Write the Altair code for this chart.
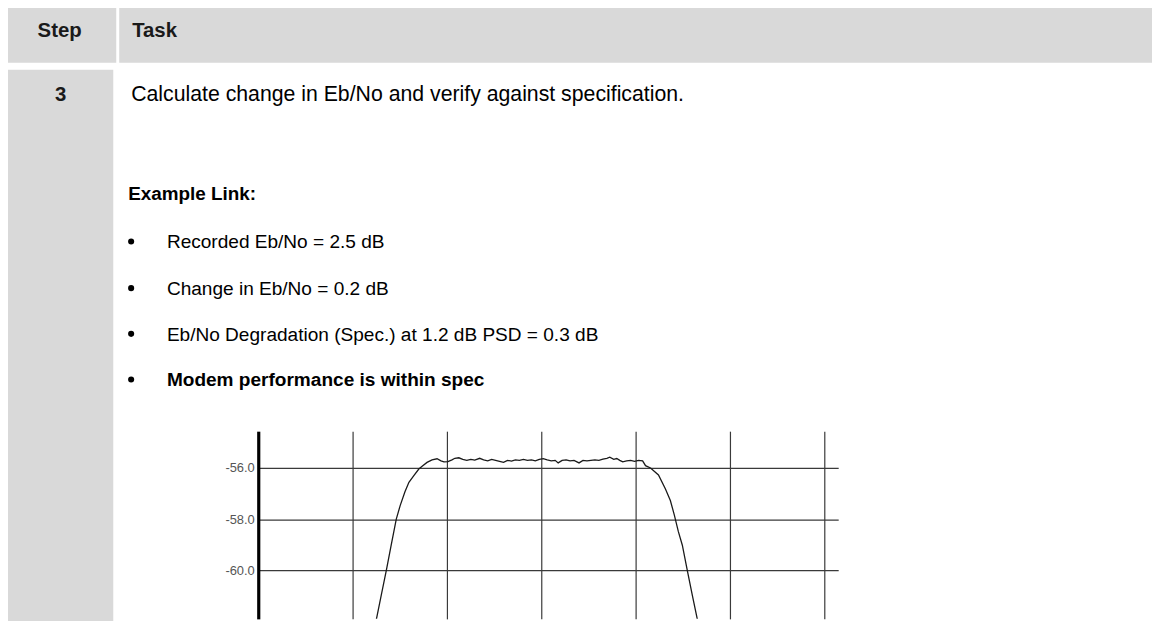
import altair as alt
import pandas as pd

# ---- chart data (frequency in graticule divisions, level in dB) ----
freq = [1.22, 1.253, 1.305, 1.358, 1.41, 1.463, 1.505, 1.555, 1.597, 1.649, 1.702, 1.737, 1.789, 1.842,
        1.895, 1.937, 1.968, 2.011, 2.053, 2.084, 2.126, 2.168, 2.211, 2.253, 2.295, 2.347, 2.389, 2.432,
        2.474, 2.516, 2.558, 2.6, 2.642, 2.684, 2.726, 2.768, 2.811, 2.853, 2.895, 2.937, 2.979, 3.021,
        3.063, 3.105, 3.147, 3.179, 3.221, 3.263, 3.305, 3.347, 3.4, 3.442, 3.484, 3.526, 3.568, 3.611,
        3.653, 3.695, 3.726, 3.768, 3.8, 3.832, 3.863, 3.905, 3.947, 3.989, 4.032,
        4.074, 4.105, 4.158, 4.242, 4.316, 4.368, 4.411, 4.453, 4.495, 4.547, 4.6, 4.653, 4.674]
level = [-62.4, -61.9, -60.95, -59.99, -59.0, -58.0, -57.46, -56.93, -56.56, -56.3, -56.04, -55.93, -55.78, -55.68,
         -55.64, -55.72, -55.76, -55.75, -55.68, -55.62, -55.6, -55.66, -55.7, -55.66, -55.69, -55.62, -55.68, -55.72,
         -55.66, -55.7, -55.74, -55.78, -55.7, -55.73, -55.68, -55.7, -55.66, -55.7, -55.68, -55.72, -55.66, -55.63,
         -55.68, -55.72, -55.7, -55.8, -55.7, -55.68, -55.72, -55.7, -55.8, -55.7, -55.72, -55.7, -55.68, -55.7,
         -55.65, -55.62, -55.58, -55.66, -55.63, -55.7, -55.76, -55.72, -55.7, -55.74, -55.7,
         -55.72, -55.91, -56.0, -56.27, -56.82, -57.27, -57.85, -58.49, -59.02, -59.99, -60.96, -61.9, -62.3]
y_ticks = [-60.0, -58.0, -56.0]
x_grid = [1, 2, 3, 4, 5, 6]

# ---- document text ----
header_step = "Step"
header_task = "Task"
step_no = "3"
task_line = "Calculate change in Eb/No and verify against specification."
example_title = "Example Link:"
bullets = ["Recorded Eb/No = 2.5 dB",
           "Change in Eb/No = 0.2 dB",
           "Eb/No Degradation (Spec.) at 1.2 dB PSD = 0.3 dB",
           "Modem performance is within spec"]
bullet_bold = [False, False, False, True]

FONT = "Liberation Sans"
GRAY = "#d9d9d9"

df = pd.DataFrame({"freq": freq, "level": level})
one = alt.Data(values=[{"k": 0}])

# plot-area origin sits at page (260, 432)
def rect(x, x2, y, y2):
    return alt.Chart(one).mark_rect(color=GRAY).encode(
        x=alt.value(x), x2=alt.value(x2), y=alt.value(y), y2=alt.value(y2))

def txt(s, x, y, size, bold=False, align="left", color="#000000"):
    return alt.Chart(one).mark_text(
        font=FONT, fontSize=size, fontWeight="bold" if bold else "normal",
        align=align, baseline="alphabetic", color=color).encode(
        x=alt.value(x), y=alt.value(y), text=alt.value(s))

layers = [
    rect(-260, -143, -440, -371),
    rect(-140, 910, -440, -371),
    rect(-260, -146, -364, 200),
    txt(header_step, -200, -397, 20.5, True, "center", "#1a1a1a"),
    txt(header_task, -127, -397, 20.5, True, "left", "#1a1a1a"),
    txt(step_no, -199, -332, 20.5, True, "center", "#1a1a1a"),
    txt(task_line, -128, -332, 21.4),
    txt(example_title, -131, -233, 19, True),
]
baselines = [-184, -137, -91, -45]
for s, b, yb in zip(bullets, bullet_bold, baselines):
    layers.append(alt.Chart(one).mark_circle(color="#000000", opacity=1, size=38).encode(
        x=alt.value(-128), y=alt.value(yb - 7)))
    layers.append(txt(s, -92, yb, 19.2, b))

line = alt.Chart(df).mark_line(color="#1a1a1a", strokeWidth=1.3, clip=True).encode(
    x=alt.X("freq:Q", scale=alt.Scale(domain=[0, 6.147], nice=False, zero=False),
            axis=alt.Axis(values=x_grid, grid=True, labels=False, ticks=False, domain=False,
                          title=None, gridColor="#3a3a3a", gridWidth=1.2, gridOpacity=1)),
    y=alt.Y("level:Q", scale=alt.Scale(domain=[-61.9, -54.56], nice=False, zero=False),
            axis=alt.Axis(values=y_ticks, grid=True, ticks=False, title=None,
                          labelExpr="replace(format(datum.value, '.1f'), '\u2212', '-')",
                          domain=True, domainColor="#000000", domainWidth=3.2,
                          labelFont="Liberation Sans", labelFontSize=13, labelColor="#555555",
                          labelPadding=4, gridColor="#3a3a3a", gridWidth=1.2, gridOpacity=1)),
    order="freq:Q",
)

chart = alt.layer(*layers, line).properties(
    width=584, height=189,
    autosize=alt.AutoSizeParams(type="none"),
    padding={"left": 252, "top": 424, "right": 316, "bottom": 0},
    background="#ffffff",
).configure_view(stroke=None)

chart.save("out.html", embed_options={"renderer": "svg", "actions": False})
